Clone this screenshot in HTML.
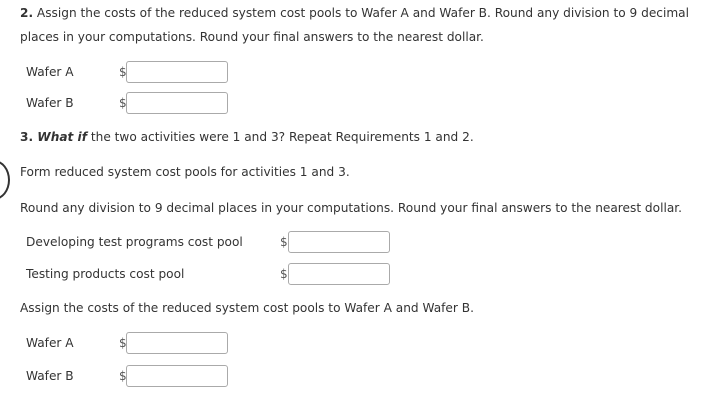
<!DOCTYPE html>
<html><head><style>
body{margin:0;width:722px;height:401px;background:#fff;position:relative;overflow:hidden;font-family:"DejaVu Sans","Liberation Sans",sans-serif;font-size:12.15px;color:#333;}
.t{position:absolute;white-space:nowrap;line-height:16px;}
.b{position:absolute;width:102px;height:22px;border:1px solid #aaa;border-radius:3px;background:#fff;box-sizing:border-box;}
.d{position:absolute;font-size:12px;color:#555;line-height:16px;}
</style></head><body>
<div class="t" style="left:20px;top:5px"><b>2.</b> Assign the costs of the reduced system cost pools to Wafer A and Wafer B. Round any division to 9 decimal</div>
<div class="t" style="left:20px;top:29px">places in your computations. Round your final answers to the nearest dollar.</div>
<div class="t" style="left:26px;top:64px">Wafer A</div><div class="d" style="left:119px;top:64px">$</div><div class="b" style="left:126px;top:61px"></div>
<div class="t" style="left:26px;top:95px">Wafer B</div><div class="d" style="left:119px;top:95px">$</div><div class="b" style="left:126px;top:92px"></div>
<div class="t" style="left:20px;top:129px"><b>3. <i>What if</i></b> the two activities were 1 and 3? Repeat Requirements 1 and 2.</div>
<div style="position:absolute;left:-22px;top:160px;width:28px;height:36px;border:2.5px solid #333;border-radius:50%"></div>
<div class="t" style="left:20px;top:164px">Form reduced system cost pools for activities 1 and 3.</div>
<div class="t" style="left:20px;top:200px">Round any division to 9 decimal places in your computations. Round your final answers to the nearest dollar.</div>
<div class="t" style="left:26px;top:234px">Developing test programs cost pool</div><div class="d" style="left:280px;top:234px">$</div><div class="b" style="left:288px;top:231px"></div>
<div class="t" style="left:26px;top:266px">Testing products cost pool</div><div class="d" style="left:280px;top:266px">$</div><div class="b" style="left:288px;top:263px"></div>
<div class="t" style="left:20px;top:300px">Assign the costs of the reduced system cost pools to Wafer A and Wafer B.</div>
<div class="t" style="left:26px;top:335px">Wafer A</div><div class="d" style="left:119px;top:335px">$</div><div class="b" style="left:126px;top:332px"></div>
<div class="t" style="left:26px;top:368px">Wafer B</div><div class="d" style="left:119px;top:368px">$</div><div class="b" style="left:126px;top:365px"></div>
</body></html>
